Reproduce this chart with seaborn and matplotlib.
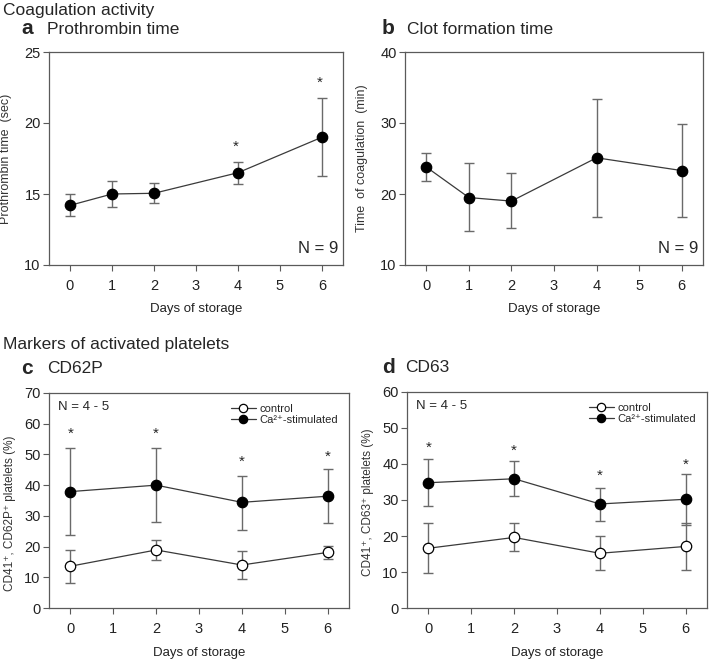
import numpy as np
import pandas as pd
import matplotlib
matplotlib.use("Agg")
import matplotlib.pyplot as plt
import seaborn as sns

# ---------------- data ----------------
days_ab = [0, 1, 2, 4, 6]
pt_mean = [14.2, 15.0, 15.05, 16.5, 19.0]
pt_lo = [0.75, 0.95, 0.7, 0.78, 2.7]
pt_hi = [0.8, 0.95, 0.72, 0.78, 2.75]
pt_star_days = [4, 6]
pt_star_y = [18.3, 22.8]

ct_mean = [23.8, 19.5, 19.0, 25.1, 23.3]
ct_lo = [2.0, 4.7, 3.8, 8.3, 6.5]
ct_hi = [2.0, 4.8, 3.9, 8.3, 6.5]

days_cd = [0, 2, 4, 6]
cd62_ctrl = [13.6, 18.9, 14.0, 18.1]
cd62_ctrl_lo = [5.3, 3.4, 4.6, 2.1]
cd62_ctrl_hi = [5.2, 3.4, 4.6, 2.2]
cd62_stim = [37.9, 40.0, 34.4, 36.4]
cd62_stim_lo = [14.1, 12.0, 9.0, 8.6]
cd62_stim_hi = [14.1, 12.0, 8.6, 8.7]
cd62_star_y = [56.8, 56.8, 47.5, 49.3]

cd63_ctrl = [16.6, 19.6, 15.2, 17.1]
cd63_ctrl_lo = [6.9, 3.9, 4.6, 6.5]
cd63_ctrl_hi = [6.9, 3.9, 4.8, 6.5]
cd63_stim = [34.8, 35.9, 28.9, 30.2]
cd63_stim_lo = [6.5, 4.8, 4.6, 7.1]
cd63_stim_hi = [6.6, 4.9, 4.5, 7.1]
cd63_star_y = [44.6, 43.6, 36.7, 39.7]

xticks = [0, 1, 2, 3, 4, 5, 6]

# ---------------- style ----------------
sns.set_style("ticks")
plt.rcParams['font.family'] = ['Liberation Sans', 'DejaVu Sans']

W, H = 709, 659
fig = plt.figure(figsize=(W / 100, H / 100), dpi=100)

SPINE = "#5a5a5a"
LINE = "#3a3a3a"
ERR = "#6a6a6a"


def add_ax(left, top, right, bottom):
    return fig.add_axes([left / W, 1 - bottom / H, (right - left) / W, (bottom - top) / H])


def style(ax, ylim, yticks, ylabel, ylab_xy, ylabfs=8.5):
    ax.set_xlim(-0.5, 6.5)
    ax.set_ylim(*ylim)
    ax.set_xticks(xticks)
    ax.set_yticks(yticks)
    ax.tick_params(axis='both', labelsize=10.5, length=4, width=0.8, color=SPINE,
                   labelcolor="#222222")
    ax.tick_params(axis='x', pad=6)
    ax.tick_params(axis='y', pad=2)
    for s in ax.spines.values():
        s.set_color(SPINE)
        s.set_linewidth(0.9)
    ax.set_xlabel("Days of storage", fontsize=9.5, color="#222222")
    ax.xaxis.set_label_coords(0.5, -0.18)
    ax.set_ylabel(ylabel, fontsize=ylabfs, color="#333333")
    ax.yaxis.set_label_coords(*ylab_xy)


def series(ax, x, y, lo, hi, filled, label=None):
    df = pd.DataFrame({"day": x, "val": y})
    ax.errorbar(x, y, yerr=[lo, hi], fmt='none', ecolor=ERR, elinewidth=1.0,
                capsize=3.5, capthick=1.0, zorder=2)
    sns.lineplot(data=df, x="day", y="val", ax=ax, color=LINE, linewidth=0.9,
                 marker='o', markersize=7.5,
                 markerfacecolor=("black" if filled else "white"),
                 markeredgecolor="black", markeredgewidth=0.9,
                 label=label, legend=False, zorder=3)


def legend(ax):
    ax.legend(loc='upper right', frameon=False, fontsize=8, handlelength=2.2,
              handletextpad=0.35, labelspacing=0.05, borderaxespad=0.3,
              bbox_to_anchor=(0.99, 0.985), markerscale=0.8)


# ---- panel a ----
ax = add_ax(49, 52, 343, 265)
series(ax, days_ab, pt_mean, pt_lo, pt_hi, True)
style(ax, (10, 25), [10, 15, 20, 25], "Prothrombin time  (sec)", (-0.125, 0.5), 9)
for d, yy in zip(pt_star_days, pt_star_y):
    ax.text(d - 0.05, yy, "*", ha='center', va='center', fontsize=11)
ax.text(0.985, 0.04, "N = 9", transform=ax.transAxes, ha='right', va='bottom', fontsize=12)

# ---- panel b ----
ax = add_ax(405, 52, 703, 265)
series(ax, days_ab, ct_mean, ct_lo, ct_hi, True)
style(ax, (10, 40), [10, 20, 30, 40], "Time  of coagulation  (min)", (-0.124, 0.5), 9)
ax.text(0.985, 0.04, "N = 9", transform=ax.transAxes, ha='right', va='bottom', fontsize=12)

# ---- panel c ----
ax = add_ax(49, 393, 349, 608)
series(ax, days_cd, cd62_ctrl, cd62_ctrl_lo, cd62_ctrl_hi, False, "control")
series(ax, days_cd, cd62_stim, cd62_stim_lo, cd62_stim_hi, True, "Ca²⁺-stimulated")
style(ax, (0, 70), list(range(0, 71, 10)), "CD41⁺, CD62P⁺ platelets (%)",
      (-0.11, 0.44), 8.5)
for d, yy in zip(days_cd, cd62_star_y):
    ax.text(d, yy, "*", ha='center', va='center', fontsize=11)
ax.text(0.03, 0.965, "N = 4 - 5", transform=ax.transAxes, ha='left', va='top', fontsize=9.5)
legend(ax)

# ---- panel d ----
ax = add_ax(407, 392, 707, 608)
series(ax, days_cd, cd63_ctrl, cd63_ctrl_lo, cd63_ctrl_hi, False, "control")
series(ax, days_cd, cd63_stim, cd63_stim_lo, cd63_stim_hi, True, "Ca²⁺-stimulated")
style(ax, (0, 60), list(range(0, 61, 10)), "CD41⁺, CD63⁺ platelets (%)",
      (-0.11, 0.49), 8.5)
for d, yy in zip(days_cd, cd63_star_y):
    ax.text(d, yy, "*", ha='center', va='center', fontsize=11)
ax.text(0.03, 0.965, "N = 4 - 5", transform=ax.transAxes, ha='left', va='top', fontsize=9.5)
legend(ax)

# ---- titles ----
def ftext(x, y, s, **kw):
    fig.text(x / W, 1 - y / H, s, va='center', **kw)

ftext(3, 11, "Coagulation activity", ha='left', fontsize=12.5)
ftext(21, 29, "a", ha='left', fontsize=15, fontweight='bold')
ftext(47, 29, "Prothrombin time", ha='left', fontsize=12.5)
ftext(382, 29, "b", ha='left', fontsize=15, fontweight='bold')
ftext(407, 29, "Clot formation time", ha='left', fontsize=12.5)
ftext(3, 345, "Markers of activated platelets", ha='left', fontsize=12.5)
ftext(21, 368, "c", ha='left', fontsize=15, fontweight='bold')
ftext(47, 368, "CD62P", ha='left', fontsize=12.5)
ftext(382, 367, "d", ha='left', fontsize=15, fontweight='bold')
ftext(405, 367, "CD63", ha='left', fontsize=12.5)

fig.savefig("out.png", dpi=100)
